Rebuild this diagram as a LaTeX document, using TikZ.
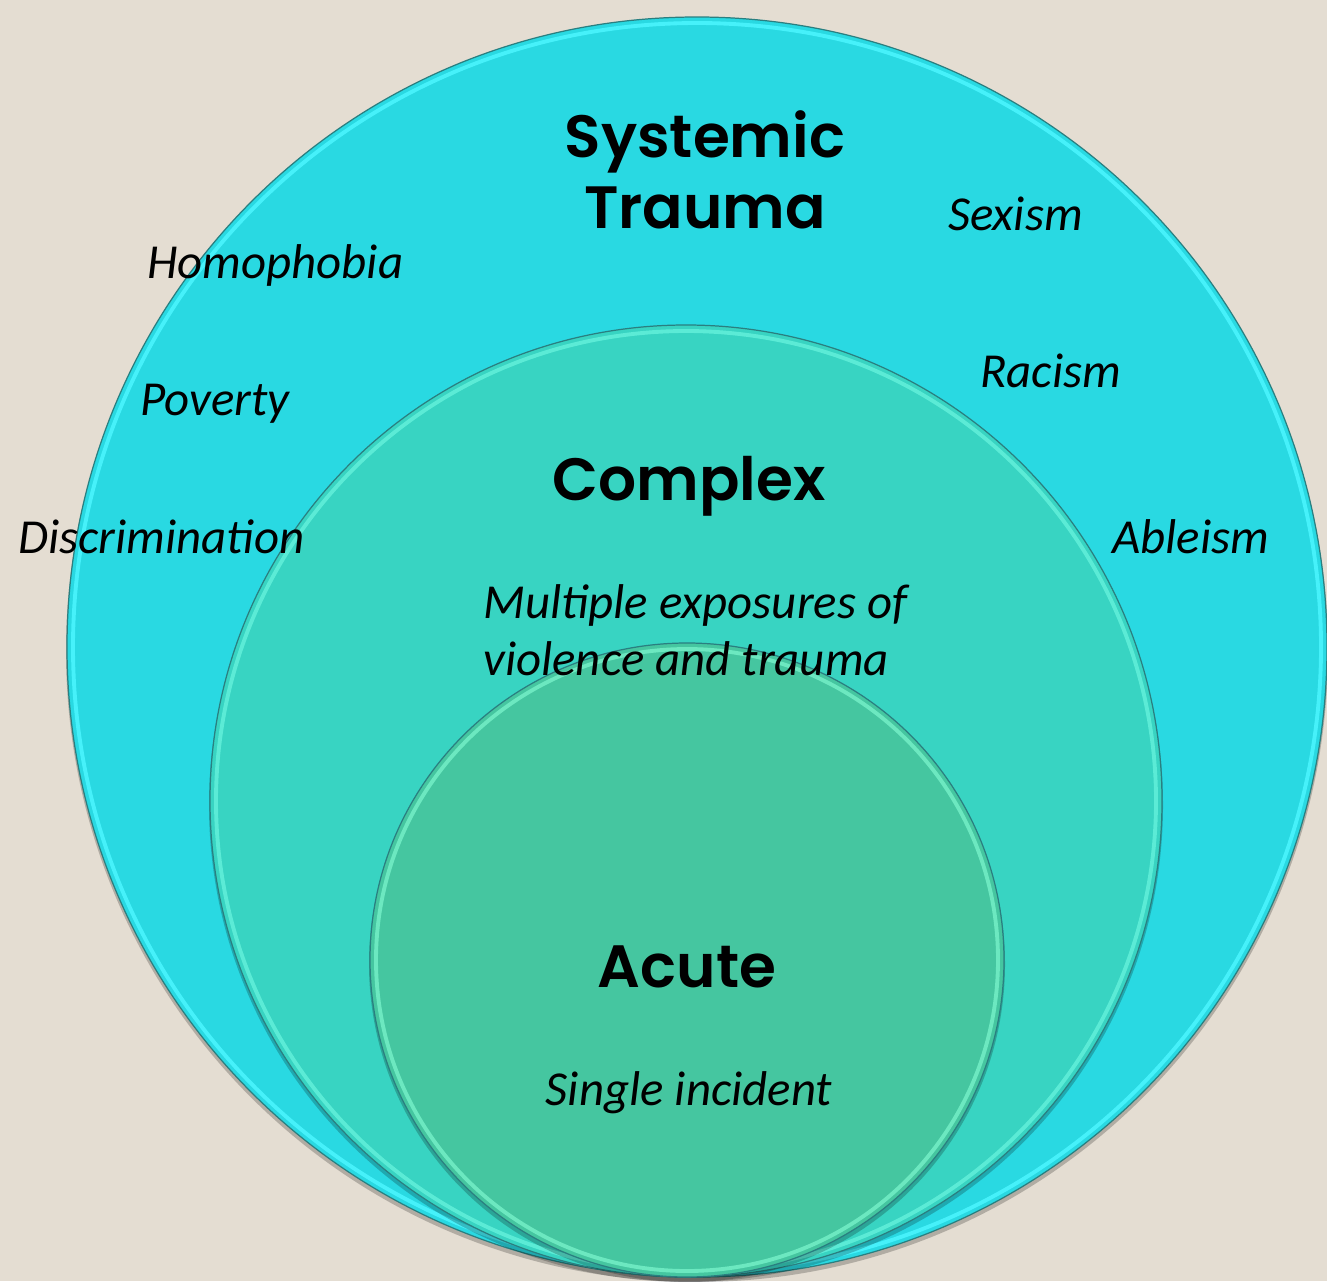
\documentclass[tikz,border=0pt]{standalone}
\usepackage{fontspec}
\setmainfont{Carlito}
\newfontfamily\headfont{Poppins SemiBold}
\usetikzlibrary{positioning}

\definecolor{paper}{HTML}{E4DDD2}
\definecolor{sysfill}{HTML}{29D9E2}
\definecolor{syslight}{HTML}{4CF6FF}
\definecolor{cpxfill}{HTML}{38D4C2}
\definecolor{cpxlight}{HTML}{62F0DA}
\definecolor{acufill}{HTML}{45C6A0}
\definecolor{aculight}{HTML}{74EEC6}
\definecolor{rimdark}{HTML}{2A7F80}

\tikzset{
  headlabel/.style={font=\headfont\fontsize{34}{40}\selectfont, anchor=base, inner sep=0pt},
  itemlabel/.style={font=\itshape\fontsize{27.8}{32}\selectfont, anchor=base west, inner sep=0pt},
  notelabel/.style={itemlabel, anchor=base},
}

% bevelled disc: centre, radius, fill, light rim
\newcommand{\bevelring}[4]{%
  \fill[black, opacity=.22] ([shift={(0,-4)}]#1) circle (#2+1);
  \fill[#3] (#1) circle (#2);
  \draw[#4, line width=2.2pt, opacity=.85] (#1) circle (#2-6);
  \draw[rimdark, line width=.7pt] (#1) circle (#2);
}

\begin{document}
\begin{tikzpicture}[x=0.02cm, y=0.02cm]
\fill[paper] (0,0) rectangle (1327,-1281);
\useasboundingbox (0,0) rectangle (1327,-1281);

\coordinate (sysc) at (697,-647);
\coordinate (cpxc) at (686,-801);
\coordinate (acuc) at (687,-960);

\begin{scope}
\clip (0,0) rectangle (1327,-1281);
\bevelring{sysc}{630}{sysfill}{syslight}
\bevelring{cpxc}{476}{cpxfill}{cpxlight}
\bevelring{acuc}{317}{acufill}{aculight}
\end{scope}

% headings
\node[headlabel] (systemic) at (705,-157) {Systemic};
\node[headlabel] (trauma)   at (705,-228) {Trauma};
\node[headlabel] (complex)  at (689,-500) {Complex};
\node[headlabel] (acute)    at (687,-987) {Acute};

% systemic forms
\node[itemlabel] (homophobia)     at (147,-278) {Homophobia};
\node[itemlabel] (poverty)        at (140,-415) {Poverty};
\node[itemlabel] (discrimination) at (18,-553)  {Discrimination};
\node[itemlabel] (sexism)         at (948,-230) {Sexism};
\node[itemlabel] (racism)         at (980,-387) {Racism};
\node[itemlabel] (ableism)        at (1112,-553) {Ableism};

% descriptions
\node[itemlabel] (multiple) at (483,-618) {Multiple exposures of};
\node[itemlabel] (violence) at (483,-675) {violence and trauma};
\node[notelabel] (single)   at (689,-1105) {Single incident};
\end{tikzpicture}
\end{document}
